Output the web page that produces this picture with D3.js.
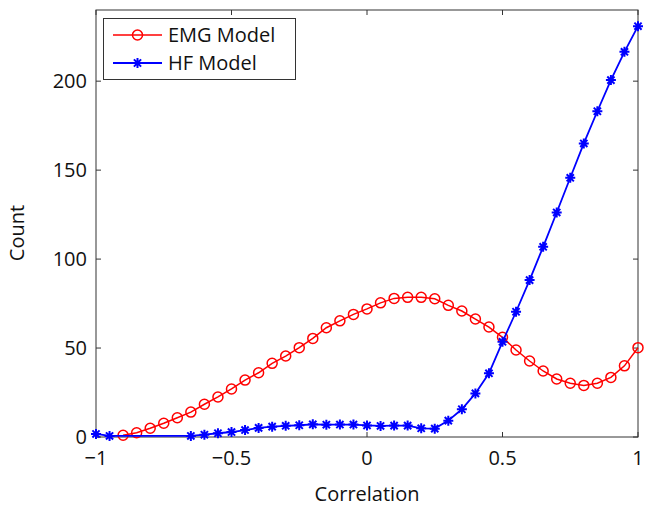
<!DOCTYPE html>
<html><head><meta charset="utf-8">
<script src="https://cdn.jsdelivr.net/npm/d3@7"></script>
<style>body{margin:0;background:#fff}svg{display:block}text{font-family:"Open Sans",sans-serif;fill:#111}</style>
</head><body><svg id="c" width="654" height="512"></svg>
<script>
const emgX = [-0.9,-0.85,-0.8,-0.75,-0.7,-0.65,-0.6,-0.55,-0.5,-0.45,-0.4,-0.35,-0.3,-0.25,-0.2,-0.15,-0.1,-0.05,0,0.05,0.1,0.15,0.2,0.25,0.3,0.35,0.4,0.45,0.5,0.55,0.6,0.65,0.7,0.75,0.8,0.85,0.9,0.95,1];
const emgY = [1,2.4,4.9,7.7,10.8,14,18.4,22.5,27,32,36.1,41.4,45.5,50.2,55.4,61.4,65.3,68.9,72,75.4,77.9,78.5,78.5,77.7,74,70.8,66.3,61.8,56,48.9,42.7,37.1,32.6,30.2,29,30.2,33.5,40,50.2];
const hfX = [-1,-0.95,-0.65,-0.6,-0.55,-0.5,-0.45,-0.4,-0.35,-0.3,-0.25,-0.2,-0.15,-0.1,-0.05,0,0.05,0.1,0.15,0.2,0.25,0.3,0.35,0.4,0.45,0.5,0.55,0.6,0.65,0.7,0.75,0.8,0.85,0.9,0.95,1];
const hfY = [1.7,0.6,0.6,1.3,2.1,2.8,3.9,5.1,5.8,6.3,6.6,7.1,6.9,7,7,6.5,6.2,6.4,6.4,4.9,4.7,9.2,15.6,24.5,35.8,53.5,70.4,88.2,106.9,126.2,145.7,165,183.1,200.6,216.5,230.9];
const xTicks = [-1,-0.5,0,0.5,1];
const xTickLabels = ["\u22121","\u22120.5","0","0.5","1"];
const yTicks = [0,50,100,150,200];
const seriesNames = ["EMG Model","HF Model"];

const svg = d3.select("#c");
const L=96,R=638,T=10,B=437;
const x = d3.scaleLinear().domain([-1,1]).range([L,R]);
const y = d3.scaleLinear().domain([0,240]).range([B,T]);
const axisCol="#333";

// ticks
const g = svg.append("g");
const tl=5;
xTicks.forEach((t,i)=>{
  g.append("line").attr("x1",x(t)).attr("x2",x(t)).attr("y1",B).attr("y2",B-tl).attr("stroke",axisCol);
  g.append("line").attr("x1",x(t)).attr("x2",x(t)).attr("y1",T).attr("y2",T+tl).attr("stroke",axisCol);
  g.append("text").attr("x",x(t)).attr("y",B+28).attr("text-anchor","middle").attr("font-size",20).text(xTickLabels[i]);
});
yTicks.forEach(t=>{
  g.append("line").attr("x1",L).attr("x2",L+tl).attr("y1",y(t)).attr("y2",y(t)).attr("stroke",axisCol);
  g.append("line").attr("x1",R).attr("x2",R-tl).attr("y1",y(t)).attr("y2",y(t)).attr("stroke",axisCol);
  g.append("text").attr("x",L-9).attr("y",y(t)).attr("dy","0.36em").attr("text-anchor","end").attr("font-size",20).text(t);
});
g.append("rect").attr("x",L).attr("y",T).attr("width",R-L).attr("height",B-T).attr("fill","none").attr("stroke",axisCol).attr("stroke-width",1);

svg.append("text").attr("x",(L+R)/2).attr("y",501).attr("text-anchor","middle").attr("font-size",20).text("Correlation");
svg.append("text").attr("transform","translate(24,233) rotate(-90)").attr("text-anchor","middle").attr("font-size",20).text("Count");

const line = d3.line().x(d=>x(d[0])).y(d=>y(d[1]));
const emg = emgX.map((v,i)=>[v,emgY[i]]);
const hf = hfX.map((v,i)=>[v,hfY[i]]);
const starPath = r => {const d=r*0.72;return `M${-r},0L${r},0M0,${-r}L0,${r}M${-d},${-d}L${d},${d}M${-d},${d}L${d},${-d}`;};

svg.append("path").datum(emg).attr("d",line).attr("fill","none").attr("stroke","#ff0000").attr("stroke-width",1.5);
svg.append("g").selectAll("circle").data(emg).join("circle").attr("cx",d=>x(d[0])).attr("cy",d=>y(d[1])).attr("r",5).attr("fill","none").attr("stroke","#ff0000").attr("stroke-width",1.5);

svg.append("path").datum(hf).attr("d",line).attr("fill","none").attr("stroke","#0000ff").attr("stroke-width",1.8);
svg.append("g").selectAll("path").data(hf).join("path").attr("transform",d=>`translate(${x(d[0])},${y(d[1])})`).attr("d",starPath(5)).attr("stroke","#0000ff").attr("stroke-width",2).attr("fill","none");

// legend
const lg = svg.append("g");
lg.append("rect").attr("x",103.5).attr("y",18.5).attr("width",192).attr("height",61).attr("fill","#fff").attr("stroke",axisCol);
const rows=[35,63];
lg.append("line").attr("x1",113).attr("x2",162).attr("y1",rows[0]).attr("y2",rows[0]).attr("stroke","#ff0000").attr("stroke-width",1.5);
lg.append("circle").attr("cx",137.5).attr("cy",rows[0]).attr("r",5).attr("fill","none").attr("stroke","#ff0000").attr("stroke-width",1.5);
lg.append("line").attr("x1",113).attr("x2",162).attr("y1",rows[1]).attr("y2",rows[1]).attr("stroke","#0000ff").attr("stroke-width",1.8);
lg.append("path").attr("transform",`translate(137.5,${rows[1]})`).attr("d",starPath(5)).attr("stroke","#0000ff").attr("stroke-width",2);
seriesNames.forEach((n,i)=>lg.append("text").attr("x",168).attr("y",rows[i]).attr("dy","0.36em").attr("font-size",20).text(n));
</script></body></html>
